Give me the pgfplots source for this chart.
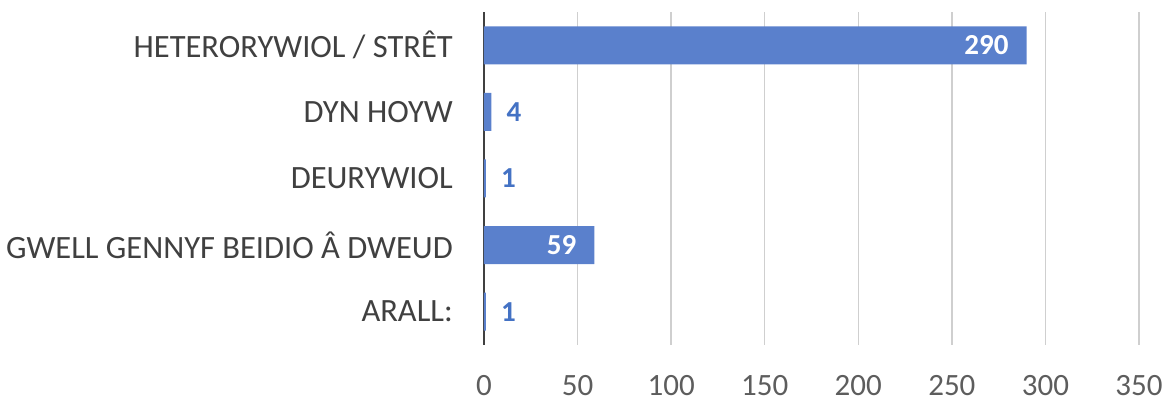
\documentclass[border=0pt]{standalone}
\usepackage{pgfplots}
\pgfplotsset{compat=1.18}
\usepackage{fontspec}
\setmainfont{Carlito}
\definecolor{barblue}{HTML}{5A80CC}
\definecolor{lblblue}{HTML}{4472C4}
\definecolor{txtgrey}{HTML}{404040}
\definecolor{gridgrey}{HTML}{CFCFCF}
\begin{document}
\begin{tikzpicture}[x=1pt,y=1pt]
\begin{axis}[
    at={(0,0)}, anchor=south west,
    scale only axis, width=655pt, height=333pt,
    xmin=0, xmax=350, ymin=-0.5, ymax=4.5,
    xtick={0,50,...,350}, ytick={0,...,4},
    yticklabels={ARALL:,
                 GWELL GENNYF BEIDIO Â DWEUD\ ,
                 DEURYWIOL,
                 DYN HOYW\ ,
                 HETERORYWIOL / STRÊT\ },
    axis y line*=left, axis x line*=bottom,
    x axis line style={draw=none},
    y axis line style={draw=txtgrey, line width=2.6pt},
    major tick length=0pt,
    xmajorgrids, grid style={gridgrey, line width=1.3pt},
    tick label style={inner sep=0pt},
    xticklabel style={font=\fontsize{31}{36}\selectfont, text=txtgrey!85,
                      anchor=north, yshift=-30pt},
    yticklabel style={font=\fontsize{32.5}{38}\selectfont, text=txtgrey,
                      anchor=east, xshift=-31pt},
    /pgf/number format/assume math mode=true,
    clip=false,
  ]
% bars
\addplot[xbar, bar shift=0pt, bar width=38pt, fill=barblue, draw=none]
coordinates {(290,4) (4,3) (1,2) (59,1) (1,0)};
% labels inside the long bars
\addplot[xbar, bar shift=0pt, bar width=38pt, draw=none, fill=none,
         point meta=x, nodes near coords,
         every node near coord/.append style={anchor=east, xshift=-18pt,
           text=white, inner sep=0pt, font=\bfseries\fontsize{29}{33}\selectfont}]
coordinates {(290,4) (59,1)};
% labels beside the short bars
\addplot[xbar, bar shift=0pt, bar width=38pt, draw=none, fill=none,
         point meta=x, nodes near coords,
         every node near coord/.append style={anchor=west, xshift=15pt,
           text=lblblue, inner sep=0pt, font=\bfseries\fontsize{29}{33}\selectfont}]
coordinates {(4,3) (1,2) (1,0)};
\end{axis}
\path (-484,-56) rectangle (689,345);
\end{tikzpicture}
\end{document}
